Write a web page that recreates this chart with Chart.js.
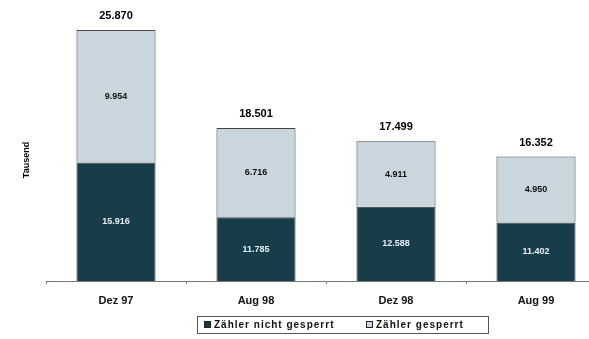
<!DOCTYPE html>
<html lang="de">
  <head>
    <meta charset="UTF-8" />
    <title>Zähler</title>
    <style>
      html, body { margin: 0; padding: 0; background: #fff; overflow: hidden; }
      .chart { width: 620px; height: 339px; }
    </style>
  </head>
  <body>
    <script src="https://cdn.jsdelivr.net/npm/chart.js"></script>
    <div class="chart"><canvas id="chart"></canvas></div>

    <script>
      const labels = ["Dez 97", "Aug 98", "Dez 98", "Aug 99"];
      const nichtGesperrt = [15916, 11785, 12588, 11402];
      const gesperrt = [9954, 6716, 4911, 4950];
      const totals = [25870, 18501, 17499, 16352];

      const dark = "#173d4b";
      const light = "#c9d6de";
      const FONT = "Arial, 'Liberation Sans', sans-serif";
      const fmt = (v) => v.toLocaleString("de-DE");

      // Werte in die Segmente, Summe oben drüber, Achsentitel, Legende mit Rahmen
      const extras = {
        id: "extras",
        afterDatasetsDraw(chart) {
          const ctx = chart.ctx;
          const bottom = chart.chartArea.bottom;
          ctx.save();
          ctx.textAlign = "center";
          ctx.textBaseline = "middle";
          ctx.font = "bold 9px " + FONT;
          chart.data.datasets.forEach((ds, i) => {
            chart.getDatasetMeta(i).data.forEach((bar, j) => {
              const mid = (bar.y + Math.min(bar.base, bottom)) / 2;
              ctx.fillStyle = i === 0 ? "#e8eef2" : "#111";
              ctx.fillText(fmt(ds.data[j]), bar.x, mid);
            });
          });
          ctx.font = "bold 11px " + FONT;
          ctx.fillStyle = "#000";
          chart.getDatasetMeta(1).data.forEach((bar, j) => {
            ctx.fillText(fmt(totals[j]), bar.x, bar.y - 14);
          });
          ctx.save();
          ctx.translate(27, 160);
          ctx.rotate(-Math.PI / 2);
          ctx.font = "bold 9px " + FONT;
          ctx.fillText("Tausend", 0, 0);
          ctx.restore();

          // Legende
          const y = 324.5;
          ctx.strokeStyle = "#555";
          ctx.lineWidth = 1;
          ctx.strokeRect(197.5, 316.5, 291, 17);
          ctx.font = "bold 10px " + FONT;
          ctx.letterSpacing = "1px";
          ctx.textAlign = "left";
          const xs = [204, 366];
          chart.data.datasets.forEach((ds, i) => {
            ctx.fillStyle = ds.backgroundColor;
            ctx.fillRect(xs[i], y - 3.5, 7, 7);
            ctx.strokeStyle = "#222";
            ctx.strokeRect(xs[i] + 0.5, y - 3, 6, 6);
            ctx.fillStyle = "#111";
            ctx.fillText(ds.label, xs[i] + 10, y + 0.5);
          });
          ctx.restore();
        },
      };

      new Chart(document.getElementById("chart"), {
        type: "bar",
        data: {
          labels: labels,
          datasets: [
            {
              label: "Zähler nicht gesperrt",
              data: nichtGesperrt,
              backgroundColor: dark,
              borderColor: "#333",
              borderWidth: 1,
            },
            {
              label: "Zähler gesperrt",
              data: gesperrt,
              backgroundColor: light,
              borderColor: "#444",
              borderWidth: 1,
            },
          ],
        },
        options: {
          responsive: true,
          maintainAspectRatio: false,
          animation: false,
          layout: { padding: { left: 46, right: 14, top: 15, bottom: 23 } },
          datasets: { bar: { barPercentage: 0.565, categoryPercentage: 1 } },
          plugins: {
            tooltip: { enabled: false },
            legend: { display: false },
          },
          scales: {
            x: {
              stacked: true,
              border: { color: "#777", width: 1 },
              grid: { drawOnChartArea: false, tickLength: 3, color: "#777", offset: true },
              ticks: {
                color: "#111",
                padding: 10,
                font: { size: 11, weight: "bold", family: FONT },
              },
              afterFit(axis) {
                axis.height = 35;
              },
            },
            y: {
              stacked: true,
              display: false,
              min: 7000,
              max: 27000,
            },
          },
        },
        plugins: [extras],
      });
    </script>
  </body>
</html>
